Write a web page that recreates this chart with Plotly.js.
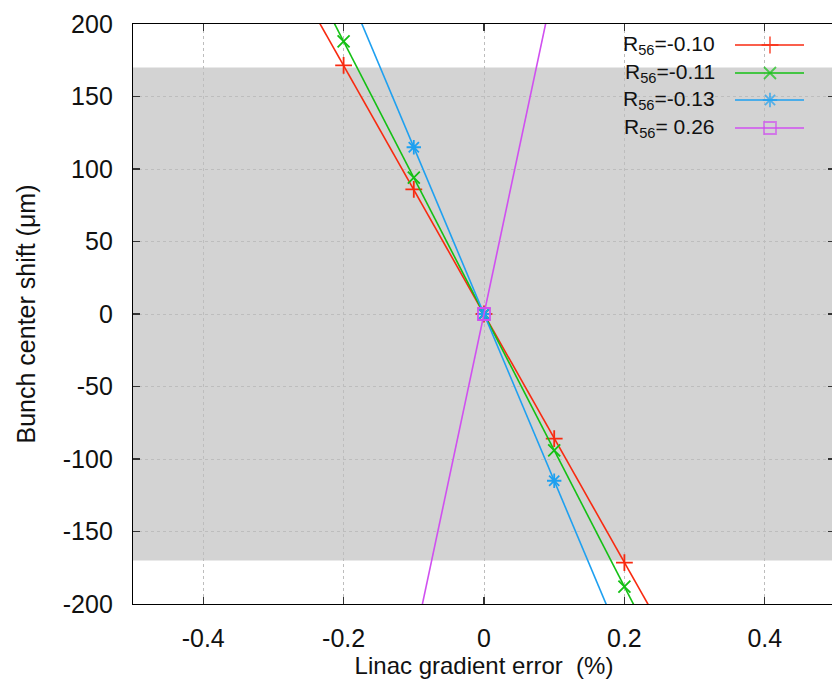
<!DOCTYPE html>
<html>
<head>
<meta charset="utf-8">
<script src="https://cdn.plot.ly/plotly-3.0.1.min.js"></script>
<style>
html,body{margin:0;padding:0;overflow:hidden;background:#fff;}
#chart{width:836px;height:686px;}
</style>
</head>
<body>
<div id="chart"></div>
<script>
// ---- data ----
const gradErr   = [-0.3, -0.2, -0.1, 0, 0.1, 0.2, 0.3];          // Linac gradient error (%)
const shiftR010 = [257, 171.5, 86, 0, -86, -171.5, -257];        // R56 = -0.10
const shiftR011 = [282, 188, 94, 0, -94, -188, -282];            // R56 = -0.11
const shiftR013 = [345, 230, 115, 0, -115, -230, -345];          // R56 = -0.13
const shiftR026 = [-684, -456, -228, 0, 228, 456, 684];          // R56 =  0.26
const seriesNames = ["R<sub>56</sub>=-0.10", "R<sub>56</sub>=-0.11", "R<sub>56</sub>=-0.13", "R<sub>56</sub>= 0.26"];
const bandLimits = [-170, 170];                                   // shaded tolerance band (µm)
const xTickVals = [-0.4, -0.2, 0, 0.2, 0.4];
const xTickText = ["-0.4", "-0.2", "0", "0.2", "0.4"];
const yTickVals = [-200, -150, -100, -50, 0, 50, 100, 150, 200];
const yTickText = ["-200", "-150", "-100", "-50", "0", "50", "100", "150", "200"];

const colors  = ["#f82a10", "#14c014", "#1ea0f0", "#d050f0"];
const symbols = ["cross-thin-open", "x-thin-open", "asterisk-open", "square-open"];
const series  = [shiftR010, shiftR011, shiftR013, shiftR026];

const FONT = "Liberation Sans, Arial, Helvetica, sans-serif";

const traces = series.map((ys, i) => ({
  x: gradErr, y: ys, type: "scatter", mode: "lines+markers",
  line: {color: colors[i], width: 1.6},
  marker: {symbol: symbols[i], size: 12, color: colors[i], line: {color: colors[i], width: 1.8}},
  cliponaxis: true, showlegend: false, hoverinfo: "skip"
}));

// custom gnuplot-style key (text left, sample right) drawn on an overlay axis in [0,1]
const keyX0 = (735 - 133) / 702, keyX1 = (804 - 133) / 702, keyXm = (770 - 133) / 702;
const keyTextX = (717 - 133) / 702;
const keyRowsPx = [45, 73, 100, 128];
const annotations = [];
keyRowsPx.forEach((py, i) => {
  const yy = (604 - py) / 580;
  traces.push({
    x: [keyX0, keyXm, keyX1], y: [yy, yy, yy], xaxis: "x2", yaxis: "y2",
    type: "scatter", mode: "lines+markers",
    line: {color: colors[i], width: 1.6},
    marker: {symbol: symbols[i], size: [0, 12, 0], color: colors[i], line: {color: colors[i], width: 1.8}},
    showlegend: false, hoverinfo: "skip", cliponaxis: false
  });
  annotations.push({
    xref: "paper", yref: "paper", x: keyTextX, y: yy, xanchor: "right", yanchor: "middle",
    text: seriesNames[i], showarrow: false, font: {family: FONT, size: 21, color: "#111"}
  });
});

const axisCommon = {
  showline: true, linecolor: "#000", linewidth: 1.2, mirror: "ticks",
  ticks: "inside", ticklen: 7, tickwidth: 1.2, tickcolor: "#333",
  showgrid: true, gridcolor: "#bdbdbd", griddash: "dot", gridwidth: 1,
  zeroline: false, tickfont: {family: FONT, size: 25, color: "#111"}
};

const layout = {
  width: 836, height: 686,
  margin: {l: 133, r: 1, t: 24, b: 82},
  paper_bgcolor: "#fff", plot_bgcolor: "#fff",
  font: {family: FONT, color: "#111"},
  showlegend: false,
  xaxis: Object.assign({}, axisCommon, {
    range: [-0.5, 0.5], tickvals: xTickVals, ticktext: xTickText,
    ticklabelstandoff: 12,
    title: {text: "Linac gradient error &nbsp;(%)", font: {family: FONT, size: 24, color: "#111"}, standoff: 6}
  }),
  yaxis: Object.assign({}, axisCommon, {
    range: [-200, 200], tickvals: yTickVals, ticktext: yTickText,
    ticklabelstandoff: 14,
    title: {text: "Bunch center shift (μm)", font: {family: FONT, size: 25, color: "#111"}, standoff: 20}
  }),
  xaxis2: {overlaying: "x", range: [0, 1], visible: false, fixedrange: true},
  yaxis2: {overlaying: "y", range: [0, 1], visible: false, fixedrange: true},
  shapes: [{
    type: "rect", xref: "x domain", yref: "y", x0: 0, x1: 1,
    y0: bandLimits[0], y1: bandLimits[1],
    fillcolor: "#d3d3d3", line: {width: 0}, layer: "below"
  }],
  annotations: annotations
};

Plotly.newPlot("chart", traces, layout, {displayModeBar: false, staticPlot: true});
</script>
</body>
</html>
